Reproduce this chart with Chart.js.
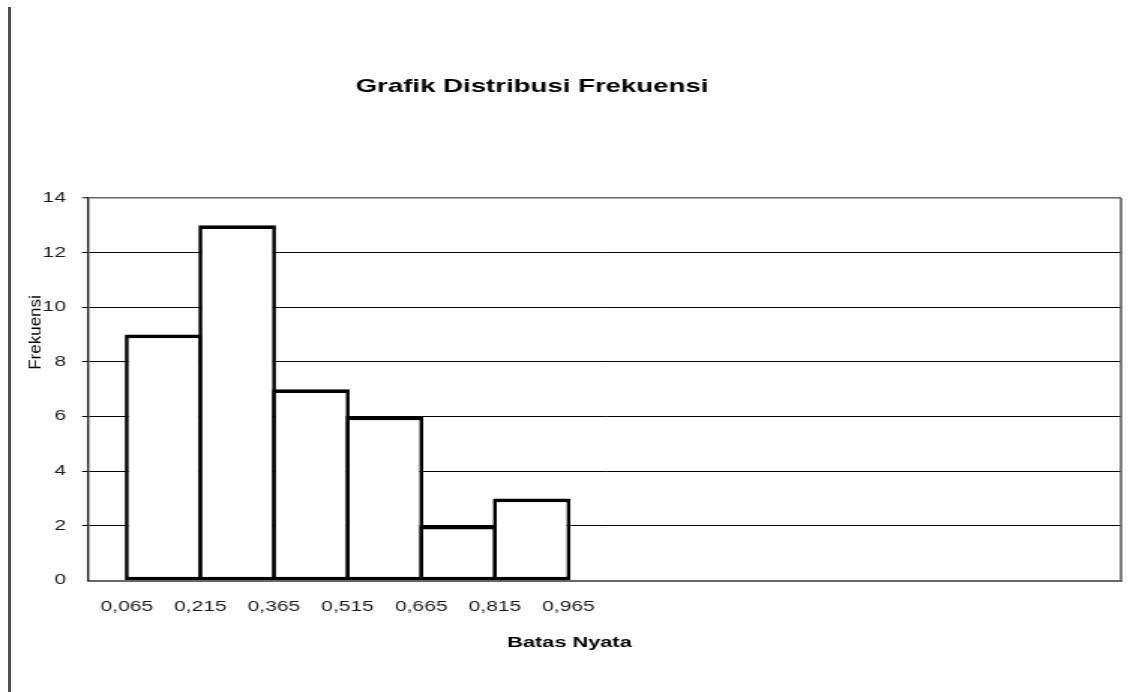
<!DOCTYPE html>
<html>
<head>
<meta charset="utf-8">
<title>Grafik Distribusi Frekuensi</title>
<script src="https://cdn.jsdelivr.net/npm/chart.js@4/dist/chart.umd.min.js"></script>
<style>
  html, body { margin: 0; padding: 0; background: #fff; }
  #wrap { position: relative; width: 1142px; height: 692px; overflow: hidden; background: #fff; }
  #chart { position: absolute; left: 0; top: 0; }
  #edge { position: absolute; left: 8px; top: 7px; bottom: 0; width: 3px; background: #505050; }
</style>
</head>
<body>
<div id="wrap">
  <canvas id="chart" width="761" height="692" style="width:1142px;height:692px"></canvas>
  <div id="edge"></div>
</div>
<script>
// Class boundaries (batas nyata) and the frequency of each class
const edges = [0.065, 0.215, 0.365, 0.515, 0.665, 0.815, 0.965];
const edgeLabels = ['0,065', '0,215', '0,365', '0,515', '0,665', '0,815', '0,965'];
const frekuensi = [9, 13, 7, 6, 2, 3];

// Axis ranges
const xAxisMin = -0.014;
const xAxisMax = 2.091;
const yAxisMax = 14;
const yStep = 2;

const titleText = 'Grafik Distribusi Frekuensi';
const xTitle = 'Batas Nyata';
const yTitle = 'Frekuensi';

// The canvas is drawn narrower and widened by CSS, which gives the wide lettering
const canvas = document.getElementById('chart');
const STRETCH = 1142 / canvas.width;
const PLOT = { left: 88, right: 1121, top: 198, bottom: 580.5 }; // page px

// Histogram bars sit between consecutive class boundaries
const bars = frekuensi.map((f, i) => ({ x: (edges[i] + edges[i + 1]) / 2, y: f }));

// Widen each bar by one edge thickness so neighbouring outlines overlap into one line
const edgeW = 4 / STRETCH;
const binPx = (edges[1] - edges[0]) / (xAxisMax - xAxisMin) * (PLOT.right - PLOT.left) / STRETCH;
const barPct = 1 + edgeW / binPx;

const FONT = '"Liberation Sans", Arial, sans-serif';

const framePlugin = {
  id: 'frame',
  afterDraw(chart) {
    const { ctx, chartArea: a } = chart;
    ctx.save();
    ctx.strokeStyle = '#666';
    ctx.lineWidth = 1.7;
    ctx.beginPath();
    ctx.moveTo(a.right, a.top);
    ctx.lineTo(a.right, a.bottom);
    ctx.stroke();
    ctx.restore();
  }
};

const titlesPlugin = {
  id: 'titles',
  afterDraw(chart) {
    const ctx = chart.ctx;
    ctx.save();
    ctx.fillStyle = '#000';
    ctx.textAlign = 'center';
    ctx.textBaseline = 'alphabetic';
    ctx.font = 'bold 18.4px ' + FONT;
    ctx.fillText(titleText, 532 / STRETCH, 92);
    ctx.font = 'bold 14.5px ' + FONT;
    ctx.fillText(xTitle, 569.5 / STRETCH, 647);
    ctx.translate(40.8 / STRETCH, 332.5);
    ctx.scale(1 / STRETCH, 1);
    ctx.rotate(-Math.PI / 2);
    ctx.font = '17px ' + FONT;
    ctx.fillText(yTitle, 0, 0);
    ctx.restore();
  }
};

new Chart(canvas, {
  type: 'bar',
  data: {
    datasets: [{
      label: yTitle,
      data: bars,
      backgroundColor: '#ffffff',
      borderColor: '#000000',
      borderWidth: { top: 3.7, bottom: 3.2, left: edgeW, right: edgeW },
      borderSkipped: false,
      inflateAmount: 0,
      barPercentage: barPct,
      categoryPercentage: 1
    }]
  },
  options: {
    responsive: false,
    devicePixelRatio: 1,
    animation: false,
    events: [],
    layout: {
      padding: { left: 0, top: PLOT.top, right: (1142 - PLOT.right) / STRETCH, bottom: 0 }
    },
    plugins: {
      legend: { display: false },
      title: { display: false },
      tooltip: { enabled: false }
    },
    scales: {
      x: {
        type: 'linear',
        min: xAxisMin,
        max: xAxisMax,
        offset: false,
        grid: { display: false, offset: false },
        border: { display: true, color: '#666', width: 2 },
        afterBuildTicks: (scale) => { scale.ticks = edges.map(v => ({ value: v })); },
        afterFit: (scale) => { scale.height = 692 - PLOT.bottom; },
        ticks: {
          autoSkip: false,
          maxRotation: 0,
          minRotation: 0,
          padding: 10,
          color: '#1a1a1a',
          font: { family: FONT, size: 14 },
          callback: (value, index) => edgeLabels[index]
        }
      },
      y: {
        min: 0,
        max: yAxisMax,
        afterFit: (scale) => { scale.width = PLOT.left / STRETCH; },
        grid: {
          drawTicks: true,
          tickLength: 4,
          color: (c) => (c.tick && c.tick.value === 0) ? 'rgba(0,0,0,0)' : (c.tick && c.tick.value === yAxisMax ? '#666' : '#000'),
          lineWidth: (c) => (c.tick && c.tick.value === yAxisMax) ? 1.6 : 1,
          tickColor: (c) => (c.tick && c.tick.value === 0) ? 'rgba(0,0,0,0)' : '#000',
          tickWidth: 1
        },
        border: { display: true, color: '#222', width: 1.4 },
        ticks: {
          stepSize: yStep,
          padding: 10.7,
          color: '#1a1a1a',
          font: { family: FONT, size: 14 }
        }
      }
    }
  },
  plugins: [framePlugin, titlesPlugin]
});
</script>
</body>
</html>
